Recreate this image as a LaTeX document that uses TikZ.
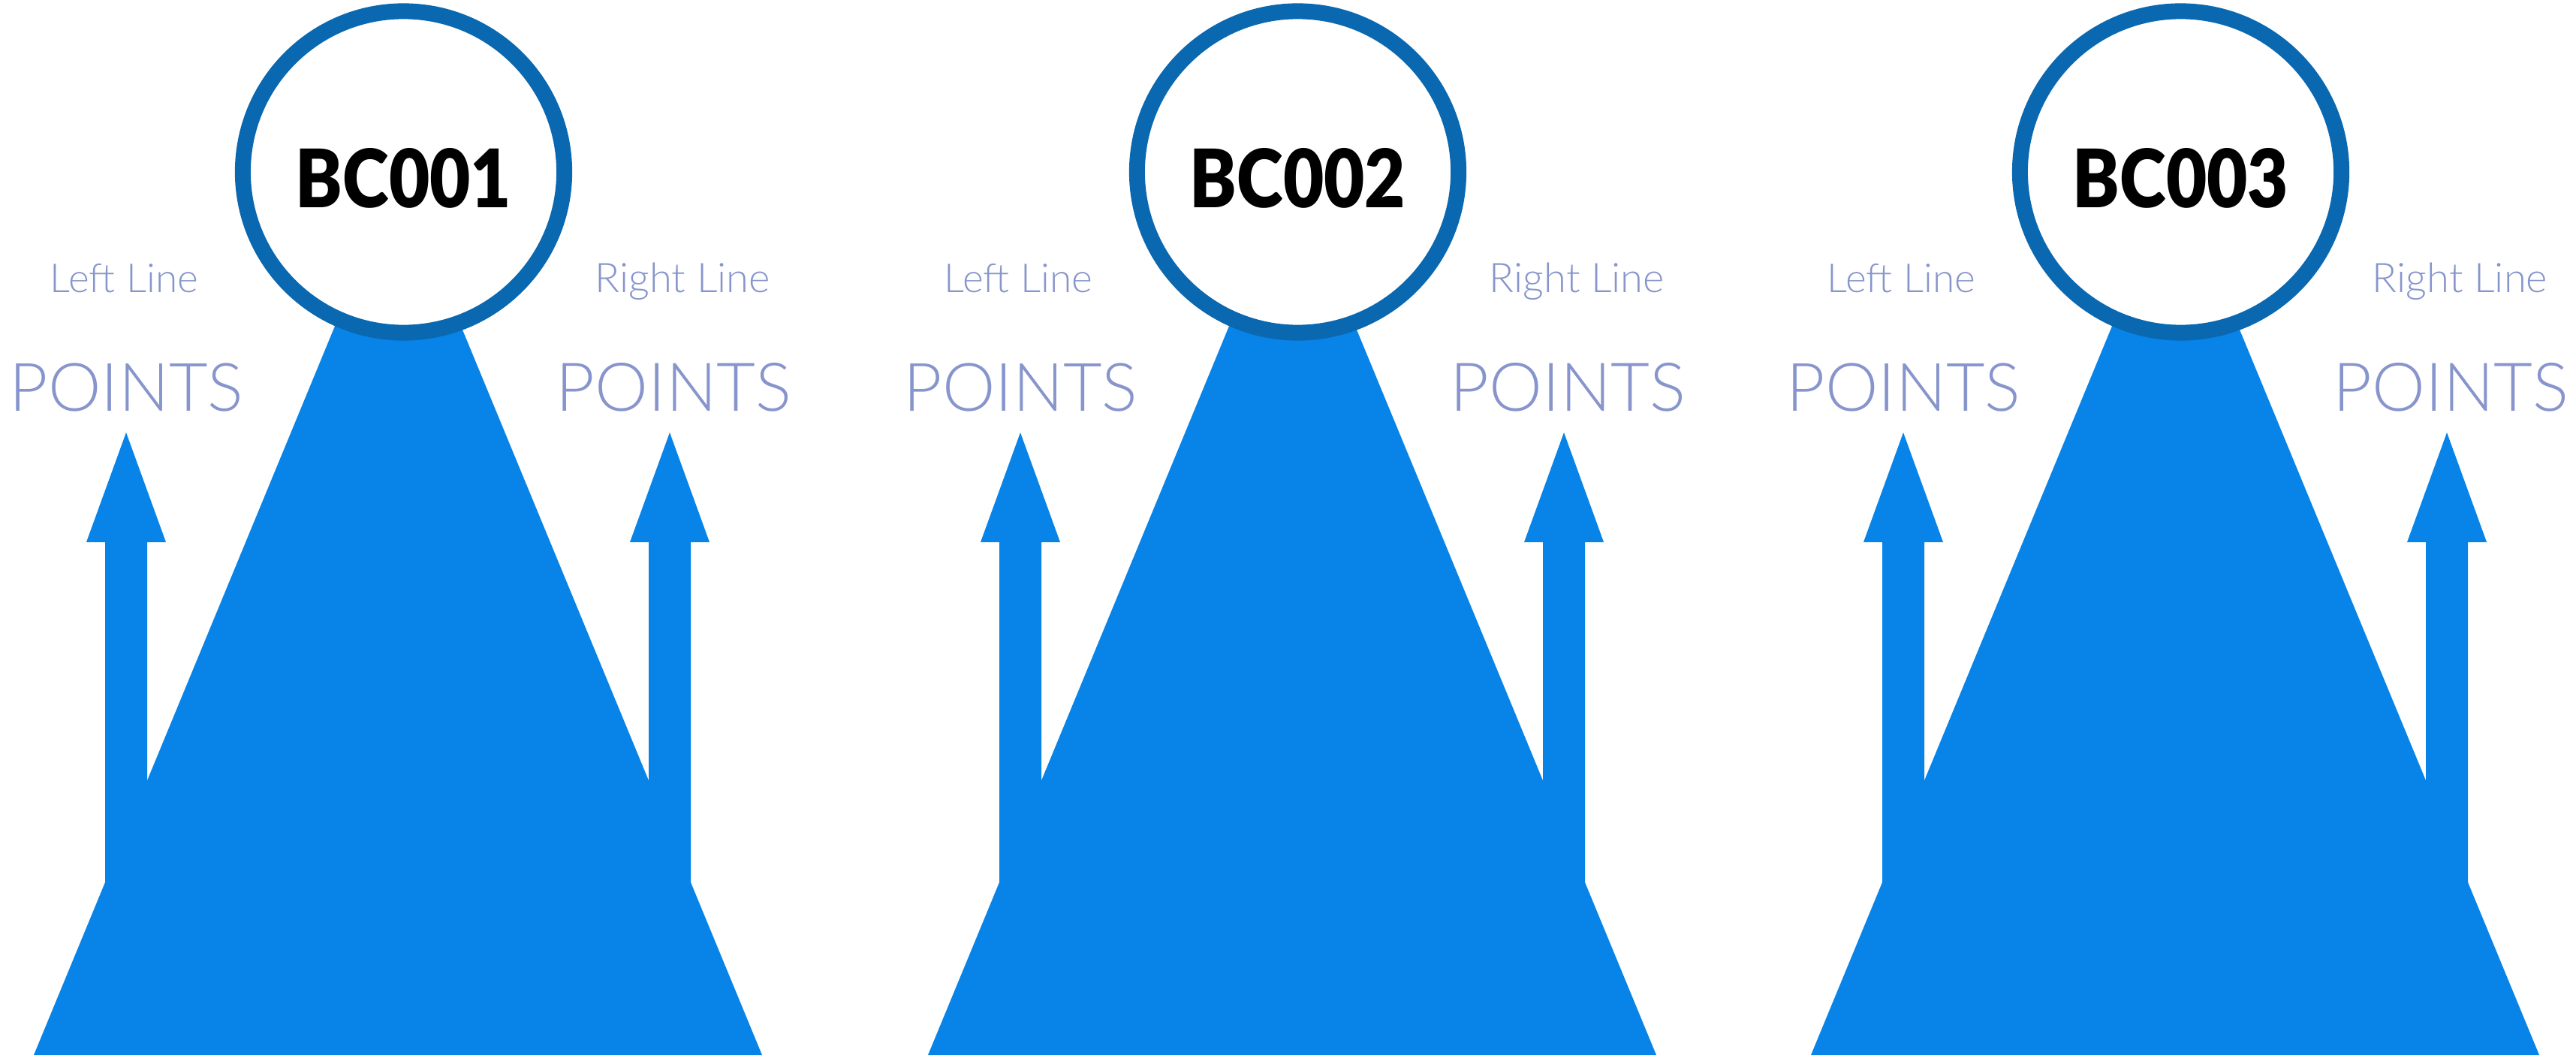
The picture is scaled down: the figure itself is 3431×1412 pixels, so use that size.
\documentclass[tikz,border=0pt]{standalone}
\usepackage{fontspec}
\setmainfont{Lato}
\newfontfamily\lightfont{Lato Light}
\newfontfamily\heavyfont{Lato Black}
\usepackage{graphicx}
\definecolor{fillblue}{RGB}{8,132,232}
\definecolor{ringblue}{RGB}{10,104,177}
\definecolor{labelblue}{RGB}{135,149,204}
\begin{document}
\begin{tikzpicture}[x=0.01cm,y=-0.01cm,
  ring/.style={circle, draw=ringblue, fill=white, line width=0.21cm, minimum size=4.28cm, inner sep=0pt},
  bctext/.style={text=black, inner sep=0pt, anchor=base, font=\heavyfont},
  lbl/.style={text=labelblue, inner sep=0pt, anchor=base, font=\lightfont},
  bluefill/.style={fill=fillblue}]
\useasboundingbox (0,0) rectangle (3431,1412);
\foreach \i/\tx in {1/530,2/1721,3/2897}{
  % main triangle
  \fill[bluefill] (\tx,231) -- (\tx-485,1405) -- (\tx+485,1405) -- cycle;
  % left arrow
  \fill[bluefill] (\tx-362,576) -- (\tx-309,722) -- (\tx-334,722) -- (\tx-334,1200)
     -- (\tx-390,1200) -- (\tx-390,722) -- (\tx-415,722) -- cycle;
  % right arrow
  \fill[bluefill] (\tx+362,576) -- (\tx+415,722) -- (\tx+390,722) -- (\tx+390,1200)
     -- (\tx+334,1200) -- (\tx+334,722) -- (\tx+309,722) -- cycle;
  % circle and id
  \node[ring] (c\i) at (\tx+7.5,229) {};
  \node[bctext] (t\i) at (\tx+7.5,276) {\resizebox{2.87cm}{0.79cm}{BC00\i}};
  % labels
  \node[lbl] (ll\i) at (\tx-364.5,389) {\resizebox{1.97cm}{!}{Left Line}};
  \node[lbl] (rl\i) at (\tx+379.5,389) {\resizebox{2.33cm}{!}{Right Line}};
  \node[lbl] (lp\i) at (\tx-361.5,547) {\resizebox{3.11cm}{!}{POINTS}};
  \node[lbl] (rp\i) at (\tx+367.5,547) {\resizebox{3.13cm}{!}{POINTS}};
}
\end{tikzpicture}
\end{document}
